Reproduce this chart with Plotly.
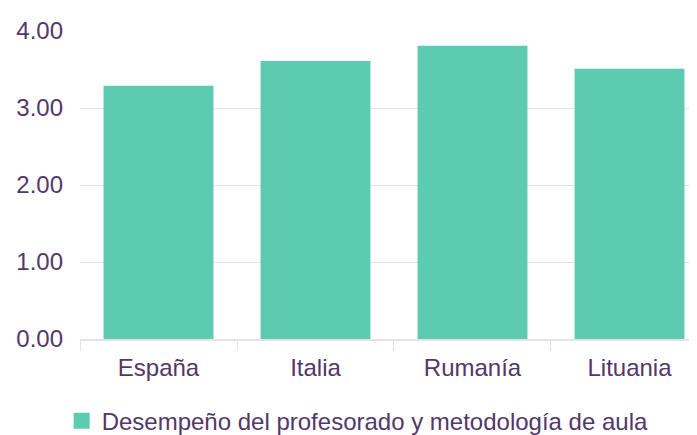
import plotly.graph_objects as go

categories = ["España", "Italia", "Rumanía", "Lituania"]
values = [3.29, 3.61, 3.81, 3.51]
series_name = "Desempeño del profesorado y metodología de aula"
y_ticks = [0, 1, 2, 3, 4]
y_tick_labels = ["0.00", "1.00", "2.00", "3.00", "4.00"]

text_color = "#533769"
bar_color = "#5ccbb0"
grid_color = "#e3e3e3"
font_family = "Liberation Sans, Arial, sans-serif"
font_size = 24

fig = go.Figure()
fig.add_trace(go.Bar(
    x=categories, y=values, name=series_name,
    marker=dict(color=bar_color, line=dict(width=0)),
    width=0.7, showlegend=False, legendgroup="s",
))
# legend entry with a larger square swatch
fig.add_trace(go.Scatter(
    x=[None], y=[None], mode="markers", name=series_name,
    marker=dict(symbol="square", size=18, color=bar_color),
    showlegend=True, legendgroup="s", hoverinfo="skip",
))

fig.update_layout(
    width=697, height=435,
    paper_bgcolor="white", plot_bgcolor="white",
    margin=dict(l=70, r=8, t=23, b=104),
    font=dict(family=font_family, color=text_color, size=font_size),
    showlegend=True,
    legend=dict(
        orientation="h", x=0.45, xanchor="center",
        yref="container", y=0.05, yanchor="middle",
        font=dict(size=font_size, color=text_color),
        itemsizing="trace",
    ),
)
fig.update_xaxes(
    range=[-0.5, 3.43],
    showgrid=False,
    showline=True, linecolor=grid_color, linewidth=2,
    ticks="outside", tickson="boundaries", ticklen=10, tickcolor=grid_color, tickwidth=1,
    ticklabelstandoff=6,
    tickfont=dict(size=font_size, color=text_color),
)
fig.update_yaxes(
    range=[0, 4],
    tickvals=y_ticks, ticktext=y_tick_labels,
    showgrid=True, gridcolor=grid_color, gridwidth=1,
    zeroline=False, showline=False,
    ticks="", ticklabelstandoff=16,
    tickfont=dict(size=font_size, color=text_color),
)

fig.write_html("out.html")
